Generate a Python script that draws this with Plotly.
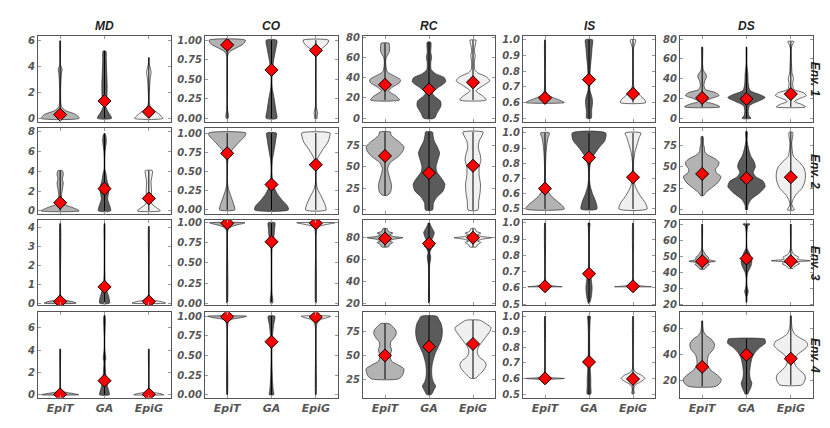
import plotly.graph_objects as go
from plotly.subplots import make_subplots

METRICS = ['MD', 'CO', 'RC', 'IS', 'DS']
ENVS = ['Env. 1', 'Env. 2', 'Env. 3', 'Env. 4']
METHODS = ['EpiT', 'GA', 'EpiG']
FILLS = ['#b3b3b3', '#5b5b5b', '#f0f0f0']

# violin outlines: [value, half width] pairs, bottom to top
# one list per env, each holding EpiT, GA, EpiG
MD_SHAPES = [
    [[[0, .43], [.3, .35], [.6, .12], [.9, .03], [2, .01], [3.5, .03], [3.8, .045], [4.1, .01], [6, .005]],
     [[0, .16], [.5, .08], [1, .02], [1.5, .05], [2.5, .06], [3.5, .05], [4.5, .04], [5.2, .03]],
     [[0, .32], [.4, .2], [.8, .05], [1.2, .01], [3, .03], [3.6, .05], [4.2, .01], [4.7, .005]]],
    [[[0, .43], [.3, .3], [.6, .12], [.9, .04], [1.5, .03], [2.2, .05], [2.8, .07], [3.2, .05], [3.7, .07], [4.05, .05]],
     [[0, .14], [.5, .12], [1.2, .07], [2, .1], [2.4, .1], [3, .06], [3.8, .03], [4.2, .01], [5, .008], [6, .015], [7, .04], [7.6, .03], [7.8, .01]],
     [[0, .26], [.3, .18], [.7, .07], [1.2, .05], [2, .06], [3, .05], [3.5, .07], [4.05, .08]]],
    [[[0, .36], [.08, .28], [.15, .12], [.25, .05], [.4, .01], [1, .005], [4.2, .005]],
     [[0, .11], [.3, .1], [.6, .06], [.9, .03], [1.2, .015], [2, .008], [3, .008], [4.2, .005]],
     [[0, .38], [.08, .28], [.15, .12], [.25, .04], [.4, .01], [4.05, .005]]],
    [[[0, .42], [.1, .3], [.2, .15], [.3, .05], [.5, .01], [4.1, .005]],
     [[0, .11], [.3, .1], [.7, .07], [1.2, .04], [2, .025], [3, .015], [3.2, .03], [4, .01], [5, .008], [6, .015], [6.5, .02], [7.1, .01]],
     [[0, .34], [.1, .25], [.2, .12], [.3, .04], [.5, .01], [4.1, .005]]],
]
MD_MEANS = [[0.28, 1.34, 0.5], [0.82, 2.24, 1.25], [0.09, 0.86, 0.09], [0.03, 1.26, 0.03]]

CO_SHAPES = [
    [[[0, .02], [.04, .03], [.1, .01], [.8, .01], [.85, .05], [.9, .2], [.95, .36], [1, .41]],
     [[0, .12], [.1, .1], [.25, .06], [.4, .015], [.6, .015], [.75, .05], [.9, .1], [1, .12]],
     [[0, .03], [.03, .03], [.07, .04], [.15, .01], [.8, .01], [.85, .04], [.9, .15], [.95, .25], [1, .29]]],
    [[[0, .17], [.05, .16], [.12, .12], [.2, .07], [.27, .03], [.35, .008], [.6, .008], [.72, .04], [.8, .14], [.9, .3], [.96, .4], [1, .42]],
     [[0, .38], [.05, .36], [.12, .25], [.2, .14], [.28, .07], [.35, .03], [.5, .01], [.65, .02], [.75, .05], [.85, .08], [.93, .1], [1, .11]],
     [[0, .23], [.08, .2], [.18, .12], [.27, .04], [.35, .01], [.6, .01], [.68, .05], [.78, .15], [.88, .27], [.95, .31], [1, .32]]],
    [[[0, .005], [.8, .008], [.9, .015], [.94, .06], [.97, .2], [.99, .35], [1, .4]],
     [[0, .02], [.05, .03], [.1, .015], [.5, .008], [.7, .015], [.78, .04], [.86, .06], [.93, .07], [1, .075]],
     [[0, .005], [.85, .008], [.93, .03], [.96, .1], [.98, .25], [1, .43]]],
    [[[0, .005], [.85, .008], [.93, .03], [.96, .1], [.98, .3], [1, .44]],
     [[0, .05], [.05, .04], [.15, .025], [.3, .015], [.5, .01], [.7, .015], [.8, .03], [.9, .05], [1, .075]],
     [[0, .005], [.85, .008], [.92, .04], [.96, .12], [.98, .25], [1, .33]]],
]
CO_MEANS = [[0.94, 0.62, 0.87], [0.736, 0.33, 0.587], [0.995, 0.764, 0.995], [0.995, 0.675, 0.99]]

RC_SHAPES = [
    [[[18, .33], [22, .25], [27, .08], [31, .18], [35, .33], [38, .35], [42, .2], [46, .05], [55, .015], [60, .03], [64, .08], [66, .1], [72, .1], [74, .09]],
     [[0, .12], [5, .18], [12, .27], [17, .26], [22, .12], [25, .08], [30, .2], [36, .38], [40, .35], [44, .15], [48, .05], [55, .04], [60, .06], [65, .04], [75, .04]],
     [[18, .3], [22, .22], [27, .07], [32, .22], [37, .38], [41, .3], [45, .1], [48, .04], [55, .03], [62, .05], [66, .03], [70, .04], [74, .06], [77, .07]]],
    [[[17, .05], [20, .12], [28, .15], [35, .12], [42, .08], [48, .06], [55, .12], [62, .3], [68, .4], [73, .43], [78, .35], [84, .2], [88, .13], [90.5, .13]],
     [[0, .08], [8, .1], [15, .18], [22, .32], [30, .36], [37, .28], [44, .18], [50, .16], [58, .2], [66, .24], [72, .2], [80, .12], [87, .09], [90.5, .08]],
     [[0, .11], [10, .13], [20, .16], [30, .17], [40, .14], [50, .14], [58, .18], [65, .16], [72, .12], [80, .14], [86, .2], [90.5, .23]]],
    [[[71.2, .08], [73, .1], [75, .18], [76.5, .1], [78, .2], [79.4, .41], [80.5, .2], [82, .1], [83.5, .18], [85, .08], [86.5, .06], [87.6, .05]],
     [[20.6, .005], [40, .01], [55, .015], [62, .04], [66, .02], [70, .06], [72, .11], [74, .08], [77, .06], [80, .09], [84, .12], [88, .07], [91, .03], [92.6, .02]],
     [[71.2, .08], [73, .1], [75, .18], [76.5, .1], [78, .2], [79.4, .43], [80.5, .2], [82, .1], [83.5, .18], [85, .08], [86.5, .06], [87.6, .05]]],
    [[[25.3, .3], [28, .38], [32, .42], [36, .43], [40, .3], [44, .15], [48, .12], [52, .13], [56, .15], [60, .12], [64, .13], [68, .2], [72, .25], [76, .25], [80, .18], [83.2, .1]],
     [[9, .05], [13, .1], [18, .15], [22, .1], [27, .07], [33, .06], [40, .07], [46, .1], [52, .14], [58, .2], [65, .27], [72, .3], [78, .3], [84, .27], [88, .22], [91, .18]],
     [[26, .05], [30, .15], [35, .25], [40, .3], [44, .26], [48, .15], [52, .1], [56, .1], [60, .14], [65, .22], [70, .3], [75, .38], [79, .41], [83, .3], [86, .2], [87, .15]]],
]
RC_MEANS = [[33, 28.4, 35.5], [62.8, 43, 51.4], [78.8, 74.1, 79.4], [50, 59.2, 62]]

IS_SHAPES = [
    [[[.6, .44], [.61, .38], [.63, .2], [.65, .06], [.67, .02], [.8, .008], [1, .005]],
     [[.5, .05], [.55, .06], [.6, .08], [.63, .07], [.68, .02], [.75, .02], [.82, .03], [.88, .05], [.95, .07], [1, .08]],
     [[.6, .29], [.62, .26], [.64, .18], [.67, .08], [.7, .02], [.8, .008], [.95, .015], [.98, .05], [1, .06]]],
    [[[.5, .44], [.52, .4], [.55, .28], [.58, .16], [.62, .06], [.65, .02], [.75, .01], [.85, .02], [.92, .04], [.97, .07], [1, .1]],
     [[.5, .18], [.55, .15], [.6, .08], [.65, .03], [.7, .01], [.78, .02], [.84, .08], [.9, .22], [.95, .36], [1, .38]],
     [[.5, .32], [.54, .28], [.58, .18], [.63, .08], [.67, .03], [.72, .015], [.8, .01], [.87, .04], [.93, .1], [.97, .14], [1, .18]]],
    [[[.607, .39], [.61, .25], [.615, .12], [.62, .05], [.63, .015], [.7, .005], [1, .005]],
     [[.505, .01], [.53, .04], [.56, .06], [.6, .07], [.63, .06], [.67, .04], [.7, .015], [.8, .008], [.9, .008], [.97, .015], [1, .02]],
     [[.607, .42], [.61, .26], [.615, .12], [.62, .05], [.63, .015], [.7, .005], [1, .005]]],
    [[[.59, .01], [.595, .15], [.6, .44], [.605, .15], [.61, .04], [.63, .01], [1, .005]],
     [[.5, .04], [.55, .04], [.6, .04], [.65, .03], [.7, .02], [.8, .015], [.9, .015], [.97, .025], [1, .03]],
     [[.5, .015], [.51, .03], [.52, .02], [.54, .02], [.56, .06], [.58, .18], [.6, .27], [.62, .2], [.64, .06], [.66, .015], [.7, .005], [1, .005]]],
]
IS_MEANS = [[0.63, 0.746, 0.656], [0.634, 0.838, 0.709], [0.61, 0.687, 0.61], [0.601, 0.706, 0.597]]

DS_SHAPES = [
    [[[11.5, .4], [14, .3], [17, .08], [20, .2], [23, .38], [26, .3], [29, .08], [33, .04], [38, .06], [42, .1], [45, .08], [48, .03], [55, .01], [72, .008]],
     [[0, .1], [3, .05], [8, .04], [13, .07], [17, .25], [21, .42], [24, .3], [28, .08], [35, .04], [45, .03], [55, .01], [72, .005]],
     [[11.5, .33], [14, .25], [17, .08], [20, .2], [23, .35], [26, .28], [29, .07], [35, .04], [40, .06], [45, .03], [55, .015], [70, .01], [74, .03], [77.5, .07]]],
    [[[16.5, .03], [20, .08], [25, .2], [30, .32], [35, .4], [39, .42], [43, .32], [47, .3], [51, .36], [55, .38], [59, .3], [63, .15], [67, .06], [72, .05], [76, .03], [85, .02]],
     [[0, .02], [5, .03], [12, .1], [20, .3], [27, .42], [33, .38], [38, .22], [43, .15], [50, .2], [56, .17], [62, .1], [70, .05], [80, .015], [91, .015]],
     [[0, .08], [3, .05], [7, .02], [12, .05], [18, .12], [25, .25], [32, .31], [38, .33], [45, .32], [50, .28], [56, .18], [62, .06], [70, .03], [78, .02], [84, .04], [90, .04]]],
    [[[42, .05], [43.5, .1], [45, .16], [46, .12], [47, .3], [48, .15], [49.5, .14], [51, .08], [52.5, .05], [54, .015], [60, .008], [70.4, .005]],
     [[20.6, .005], [25, .015], [28, .04], [31, .015], [36, .01], [40, .03], [44, .1], [47, .12], [50, .09], [53, .05], [55, .015], [65, .01], [69, .03], [70.4, .08]],
     [[42.5, .05], [44, .1], [45.5, .2], [46.5, .12], [47.3, .44], [48.3, .15], [49.5, .18], [51, .08], [52.5, .04], [55, .01], [70.4, .005]]],
    [[[15.5, .3], [18, .4], [21, .43], [24, .35], [28, .2], [32, .12], [36, .12], [40, .15], [44, .25], [48, .28], [52, .2], [55, .08], [58, .03], [62, .015], [66, .008]],
     [[9.7, .03], [12, .06], [15, .1], [18, .12], [22, .08], [26, .07], [30, .08], [34, .1], [38, .13], [42, .2], [46, .32], [49, .43], [51, .42], [52, .41]],
     [[16.7, .25], [19, .3], [22, .33], [25, .3], [28, .2], [32, .1], [36, .08], [40, .15], [44, .3], [47, .38], [50, .35], [53, .2], [56, .08], [60, .03], [65, .015], [70, .008]]],
]
DS_MEANS = [[20.6, 19.6, 24.5], [41.7, 36.7, 37.9], [47, 48.7, 47], [30.6, 39.9, 36.9]]

SHAPES = [MD_SHAPES, CO_SHAPES, RC_SHAPES, IS_SHAPES, DS_SHAPES]
MEANS = [MD_MEANS, CO_MEANS, RC_MEANS, IS_MEANS, DS_MEANS]

# axis ranges and ticks, per metric, per env
Y_RANGES = [
    [[-0.28, 6.4], [-0.33, 8.37], [-0.12, 4.38], [-0.26, 7.38]],
    [[-0.046, 1.06], [-0.055, 1.068], [-0.028, 1.034], [-0.0375, 1.05]],
    [[-3.6, 81.6], [-4.9, 95.5], [18.5, 95.3], [5.8, 95.2]],
    [[0.477, 1.027], [0.466, 1.034], [0.492, 1.018], [0.477, 1.025]],
    [[-3.6, 83.5], [-4.9, 95.1], [19.2, 72.9], [6.9, 72.6]],
]
Y_TICKS = [
    [[0, 2, 4, 6], [0, 2, 4, 6, 8], [0, 1, 2, 3, 4], [0, 2, 4, 6]],
    [[0, .25, .5, .75, 1]] * 4,
    [[0, 20, 40, 60, 80], [0, 25, 50, 75], [20, 40, 60, 80], [25, 50, 75]],
    [[.5, .6, .7, .8, .9, 1.0]] * 4,
    [[0, 20, 40, 60, 80], [0, 25, 50, 75], [20, 30, 40, 50, 60, 70], [20, 40, 60]],
]
Y_FORMAT = ['d', '.2f', 'd', '.1f', 'd']

W, H = 830, 428
COL_PX = [(30, 163), (197, 330), (355, 487), (515, 647), (672, 805)]
ROW_PX = [(24, 112), (118, 206), (212, 299), (306, 393)]

fig = make_subplots(rows=4, cols=5)

for c in range(5):
    for r in range(4):
        for k in range(3):
            prof = SHAPES[c][r][k]
            ys = [p[0] for p in prof]
            ws = [p[1] for p in prof]
            xs = [k + w for w in ws] + [k - w for w in ws[::-1]] + [k + ws[0]]
            yy = ys + ys[::-1] + [ys[0]]
            fig.add_trace(go.Scatter(
                x=xs, y=yy, mode='lines', fill='toself', fillcolor=FILLS[k],
                line=dict(color='#2b2b2b', width=0.7, shape='spline', smoothing=0.7),
                hoverinfo='skip', showlegend=False), row=r + 1, col=c + 1)
            fig.add_trace(go.Scatter(
                x=[k, k], y=[ys[0], ys[-1]], mode='lines',
                line=dict(color='black', width=1.0),
                hoverinfo='skip', showlegend=False), row=r + 1, col=c + 1)
        fig.add_trace(go.Scatter(
            x=[0, 1, 2], y=MEANS[c][r], mode='markers',
            marker=dict(symbol='diamond', size=10, color='#ff0000',
                        line=dict(color='black', width=1)),
            hoverinfo='skip', showlegend=False), row=r + 1, col=c + 1)

tick_font = dict(family='DejaVu Sans', size=10, color='#555555',
                 weight='bold', style='italic')

for c in range(5):
    for r in range(4):
        idx = r * 5 + c + 1
        x0, x1 = COL_PX[c]
        y0, y1 = ROW_PX[r]
        fig.update_layout({
            'xaxis%d' % idx: dict(
                domain=[x0 / W, x1 / W], range=[-0.5, 2.5],
                tickvals=[0, 1, 2], ticktext=METHODS,
                showticklabels=(r == 3), tickfont=dict(tick_font, size=11),
                ticks='inside', ticklen=3, tickcolor='#999999',
                showline=True, linecolor='#555555', linewidth=1, mirror='ticks',
                showgrid=False, zeroline=False),
            'yaxis%d' % idx: dict(
                domain=[1 - y1 / H, 1 - y0 / H], range=Y_RANGES[c][r],
                tickvals=Y_TICKS[c][r], tickformat=Y_FORMAT[c], tickfont=tick_font,
                ticks='inside', ticklen=3, tickcolor='#999999',
                showline=True, linecolor='#555555', linewidth=1, mirror='ticks',
                showgrid=False, zeroline=False),
        })

annotations = []
title_font = dict(family='Liberation Sans, Arial', size=12, color='#222222',
                  weight='bold', style='italic')
for c, name in enumerate(METRICS):
    x0, x1 = COL_PX[c]
    annotations.append(dict(text=name, x=(x0 + x1) / 2 / W, y=1 - 14 / H,
                            xref='paper', yref='paper', showarrow=False,
                            font=title_font, xanchor='center', yanchor='middle'))
for r, name in enumerate(ENVS):
    y0, y1 = ROW_PX[r]
    annotations.append(dict(text=name, x=807 / W, y=1 - (y0 + y1) / 2 / H,
                            xref='paper', yref='paper', showarrow=False,
                            textangle=90, font=title_font,
                            xanchor='center', yanchor='middle'))

fig.update_layout(
    width=W, height=H, margin=dict(l=0, r=0, t=0, b=0),
    plot_bgcolor='white', paper_bgcolor='white',
    annotations=annotations,
)

fig.write_html("out.html")
